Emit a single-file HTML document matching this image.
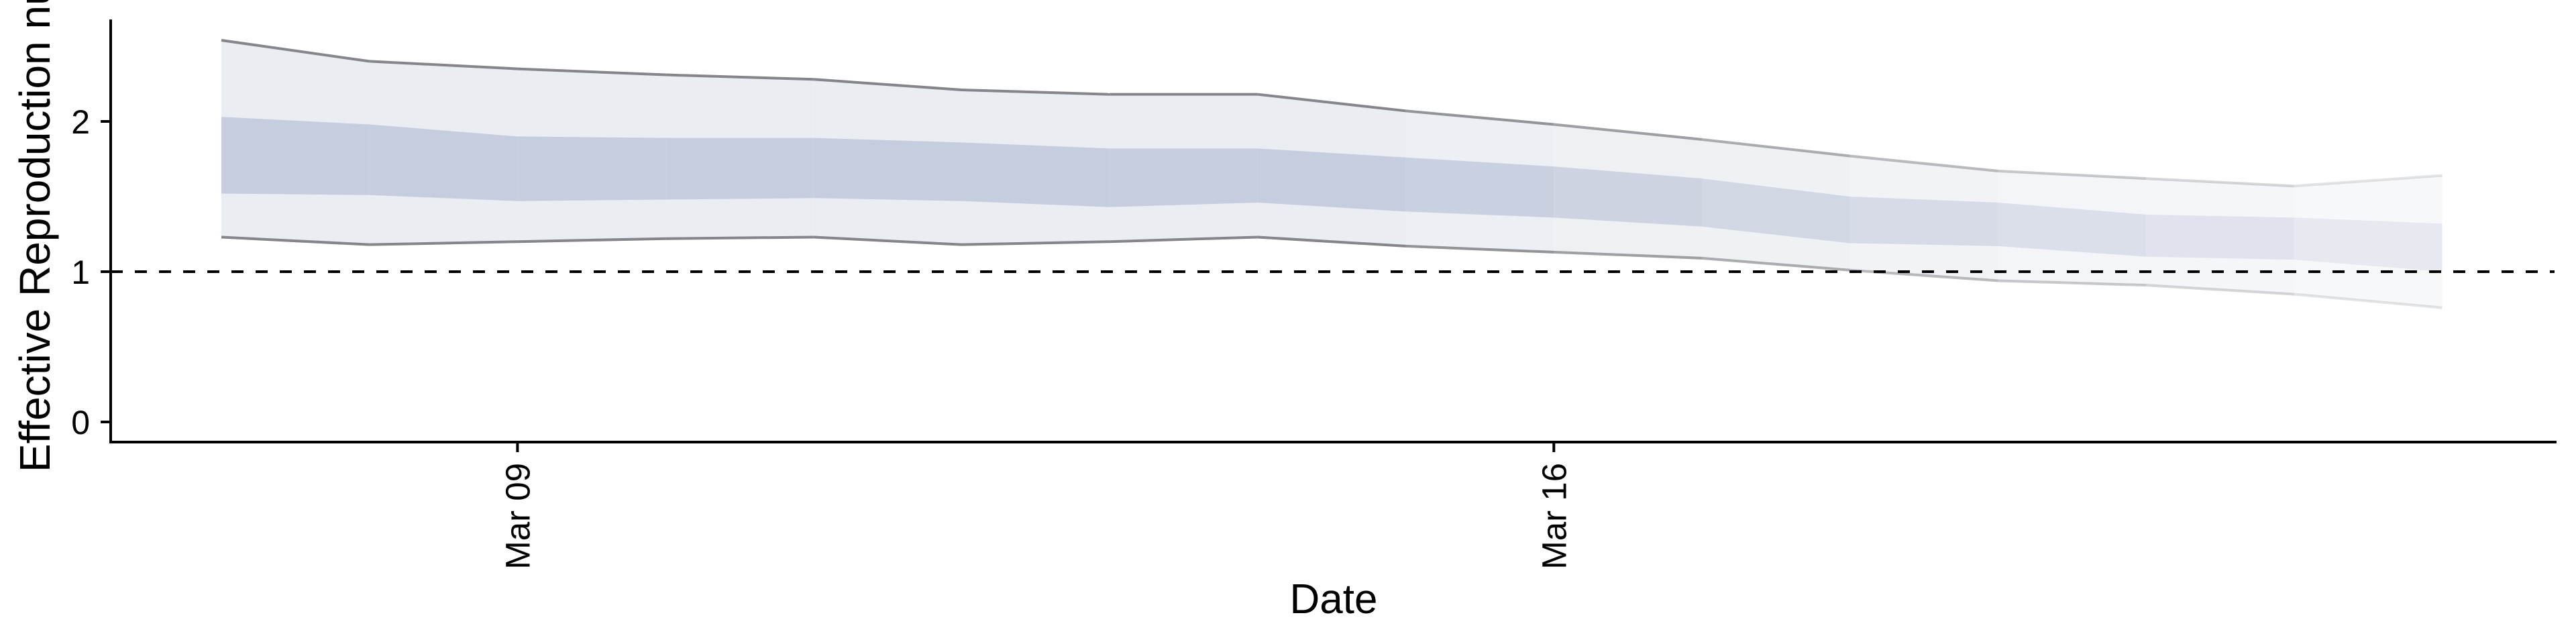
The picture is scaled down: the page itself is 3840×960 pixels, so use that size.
<!DOCTYPE html>
<html><head><meta charset="utf-8"><style>
html,body{margin:0;padding:0;background:#fff;}
svg{display:block;}
text{font-family:"Liberation Sans",Arial,sans-serif;fill:#000;}
</style></head><body>
<svg id="chart" width="3840" height="960" viewBox="0 0 3840 960" xmlns="http://www.w3.org/2000/svg">
<g id="bands"></g>
<g id="lines"></g>
<line id="ref" x1="165" x2="3808" stroke="#000" stroke-width="4" stroke-dasharray="18,18"/>
<g id="axes"></g>
<text transform="translate(74,704) rotate(-90)" font-size="64" text-anchor="start">Effective Reproduction number</text>
<text x="1988" y="914" font-size="62" text-anchor="middle">Date</text>
</svg>
<script>
const days = ["Mar 07","Mar 08","Mar 09","Mar 10","Mar 11","Mar 12","Mar 13","Mar 14","Mar 15","Mar 16","Mar 17","Mar 18","Mar 19","Mar 20","Mar 21","Mar 22"];
const upper90 = [2.54,2.40,2.35,2.31,2.28,2.21,2.18,2.18,2.07,1.98,1.88,1.77,1.67,1.62,1.57,1.64];
const upper50 = [2.03,1.98,1.90,1.89,1.89,1.86,1.82,1.82,1.76,1.70,1.62,1.50,1.46,1.38,1.36,1.32];
const lower50 = [1.52,1.51,1.47,1.48,1.49,1.47,1.43,1.46,1.40,1.36,1.30,1.19,1.17,1.10,1.08,1.00];
const lower90 = [1.23,1.18,1.20,1.22,1.23,1.18,1.20,1.23,1.17,1.13,1.09,1.01,0.94,0.91,0.85,0.76];
const yTicks = [0,1,2];
const xTickLabels = ["Mar 09","Mar 16"];
const refValue = 1;

const NS="http://www.w3.org/2000/svg";
function xScale(i){return 330+i*220.7;}
function yScale(v){return 629-v*224;}
function mk(tag,attrs,parent){const e=document.createElementNS(NS,tag);for(const k in attrs)e.setAttribute(k,attrs[k]);parent.appendChild(e);return e;}
const bands=document.getElementById('bands'),lines=document.getElementById('lines'),axes=document.getElementById('axes');
function alphaFor(i){const n=days.length-2;return i<7?1:1-0.85*(i-7)/(n-7);}
for(let i=0;i<days.length-1;i++){
  const a=alphaFor(i);
  const x0=xScale(i),x1=xScale(i+1);
  const o=mk('polygon',{points:`${x0},${yScale(upper90[i])} ${x1},${yScale(upper90[i+1])} ${x1},${yScale(lower90[i+1])} ${x0},${yScale(lower90[i])}`,fill:'#eaedf2','fill-opacity':(0.3+0.7*a).toFixed(3)},bands);
  
  
  const p=mk('polygon',{points:`${x0},${yScale(upper50[i])} ${x1},${yScale(upper50[i+1])} ${x1},${yScale(lower50[i+1])} ${x0},${yScale(lower50[i])}`,fill:'#bcc4d8','fill-opacity':(0.2+0.6*a).toFixed(3)},bands);
  
  
  [upper90,lower90].forEach(s=>{
    const l=mk('line',{x1:x0,y1:yScale(s[i]),x2:x1,y2:yScale(s[i+1]),stroke:'#86868a','stroke-width':4,'stroke-opacity':(0.08+0.92*a).toFixed(3)},lines);
    
    
  });
}
const ref=document.getElementById('ref');ref.setAttribute('y1',yScale(refValue));ref.setAttribute('y2',yScale(refValue));
const ya=mk('line',{x1:165,y1:29,x2:165,y2:661,stroke:'#000','stroke-width':4},axes);


const xa=mk('line',{x1:163,y1:659,x2:3811,y2:659,stroke:'#000','stroke-width':4},axes);


yTicks.forEach(v=>{
  const t=mk('line',{x1:150,y1:yScale(v),x2:165,y2:yScale(v),stroke:'#000','stroke-width':4},axes);
  
  
  const lb=mk('text',{x:134,y:yScale(v)+18,'font-size':50,'text-anchor':'end'},axes);
  lb.textContent=String(v);
  
  
});
xTickLabels.forEach(lbl=>{
  const i=days.indexOf(lbl);const x=xScale(i);
  const t=mk('line',{x1:x,y1:659,x2:x,y2:674,stroke:'#000','stroke-width':4},axes);
  
  
  const lb=mk('text',{transform:`translate(${x+18},690) rotate(-90)`,'font-size':51,'text-anchor':'end'},axes);
  lb.textContent=lbl;
  
  
});
</script>
</body></html>
